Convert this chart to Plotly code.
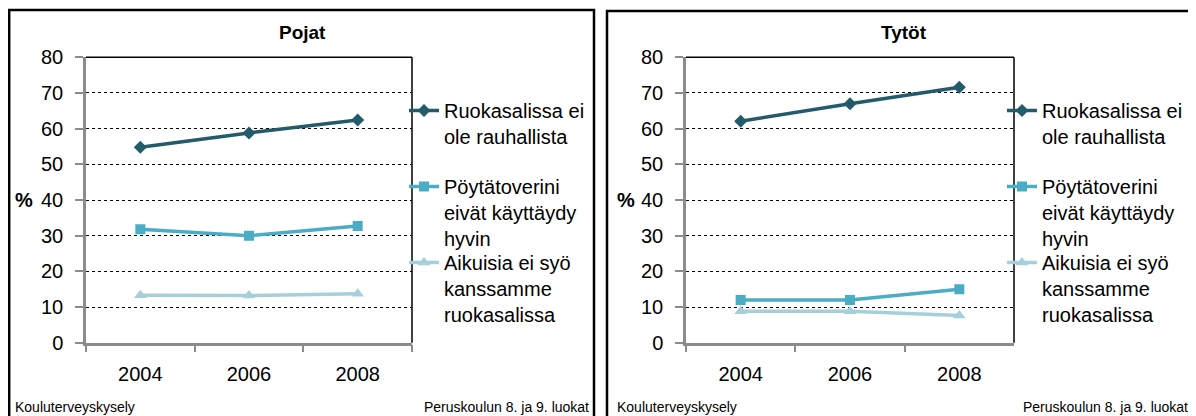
import plotly.graph_objs as go

# the page body keeps its default 8px margin, so the figure is drawn
# 8px in from the top-left corner of the 1196x416 window
OFF = 8
W, H = 1196 - OFF, 416 - OFF

years = ["2004", "2006", "2008"]
series_names = [
    "Ruokasalissa ei<br>ole rauhallista",
    "Pöytätoverini<br>eivät käyttäydy<br>hyvin",
    "Aikuisia ei syö<br>kanssamme<br>ruokasalissa",
]
pojat_rauhaton = [54.8, 58.8, 62.4]
pojat_poytatoverit = [31.8, 30.0, 32.7]
pojat_aikuiset = [13.3, 13.2, 13.7]
tytot_rauhaton = [62.1, 67.0, 71.6]
tytot_poytatoverit = [12.0, 12.0, 15.0]
tytot_aikuiset = [8.8, 8.8, 7.6]

colors = ["#235B6A", "#4BACC6", "#A5CFDB"]
symbols = ["diamond", "square", "triangle-up"]
msizes = [10, 10, 11]
FONT = "Arial, Liberation Sans, sans-serif"

# top of each legend entry (window px) and left edge of each panel's legend
legend_tops = [91, 167, 243]
legend_lefts = [404, 1002]


def px_x(p):
    # window pixel -> paper fraction
    return (p - OFF) / W


def px_y(p):
    return (H - (p - OFF)) / H


fig = go.Figure()

panels = [
    ("x", "y", [pojat_rauhaton, pojat_poytatoverit, pojat_aikuiset]),
    ("x2", "y2", [tytot_rauhaton, tytot_poytatoverit, tytot_aikuiset]),
]
legend_layout = {}
k = 0
for p, (xa, ya, data) in enumerate(panels):
    for i, vals in enumerate(data):
        lg = "legend" if k == 0 else "legend%d" % (k + 1)
        fig.add_trace(go.Scatter(
            x=years, y=vals, name=series_names[i], mode="lines+markers",
            xaxis=xa, yaxis=ya, legend=lg, showlegend=True,
            line=dict(color=colors[i], width=3.5),
            marker=dict(symbol=symbols[i], size=msizes[i], color=colors[i]),
        ))
        legend_layout[lg] = dict(
            x=px_x(legend_lefts[p]), y=px_y(legend_tops[i]),
            valign="top", itemwidth=30, bgcolor="rgba(0,0,0,0)",
            font=dict(size=20, color="black", family=FONT),
            xanchor="left", yanchor="top",
            itemclick=False, itemdoubleclick=False,
        )
        k += 1

axis_common_x = dict(
    type="category", range=[-0.5, 2.5], tickson="boundaries",
    ticks="outside", ticklen=7, tickcolor="#8c8c8c", tickwidth=2,
    showline=True, linecolor="#8c8c8c", linewidth=2.5, showgrid=False,
    automargin=False, ticklabelstandoff=12,
    tickfont=dict(size=20, color="black", family=FONT), fixedrange=True,
)
axis_common_y = dict(
    range=[0, 80], dtick=10, ticks="outside", ticklen=8,
    tickcolor="#8c8c8c", tickwidth=2, showline=True, linecolor="#8c8c8c",
    linewidth=2.5, showgrid=True, gridcolor="black", gridwidth=1,
    griddash="dot", zeroline=False, ticklabelstandoff=8, automargin=False,
    tickfont=dict(size=20, color="black", family=FONT), fixedrange=True,
)
ydom = [px_y(342.7), px_y(57.3)]

fig.update_layout(
    width=W, height=H, showlegend=True,
    margin=dict(l=0, r=0, t=0, b=0, pad=0, autoexpand=False),
    paper_bgcolor="white", plot_bgcolor="white",
    font=dict(family=FONT, color="black"),
    xaxis=dict(domain=[px_x(86), px_x(412)], anchor="y", **axis_common_x),
    yaxis=dict(domain=ydom, anchor="x", **axis_common_y),
    xaxis2=dict(domain=[px_x(686), px_x(1014)], anchor="y2", **axis_common_x),
    yaxis2=dict(domain=ydom, anchor="x2", **axis_common_y),
    **legend_layout,
)

shapes = []
for xr, yr in [("x domain", "y domain"), ("x2 domain", "y2 domain")]:
    shapes.append(dict(type="line", xref=xr, yref=yr, x0=0, x1=1, y0=1, y1=1,
                       line=dict(color="black", width=1.5)))
    shapes.append(dict(type="line", xref=xr, yref=yr, x0=1, x1=1, y0=0, y1=1,
                       line=dict(color="black", width=1.5)))
shapes.append(dict(type="rect", xref="paper", yref="paper",
                   x0=0.001, x1=px_x(594), y0=-0.1, y1=px_y(10),
                   line=dict(color="black", width=2.5)))
shapes.append(dict(type="rect", xref="paper", yref="paper",
                   x0=px_x(607), x1=1.1, y0=-0.1, y1=px_y(11),
                   line=dict(color="black", width=2.5)))
fig.update_layout(shapes=shapes)

ann = []
for cx, title in [(302, "Pojat"), (904, "Tytöt")]:
    ann.append(dict(text="<b>%s</b>" % title, x=px_x(cx), y=px_y(32),
                    xref="paper", yref="paper", showarrow=False,
                    font=dict(size=19), xanchor="center", yanchor="middle"))
for lx in [13, 615]:
    ann.append(dict(text="<b>%</b>", x=px_x(lx), y=px_y(200), xref="paper",
                    yref="paper", showarrow=False, font=dict(size=20),
                    xanchor="left", yanchor="middle"))
    ann.append(dict(text="Kouluterveyskysely", x=px_x(lx), y=px_y(407),
                    xref="paper", yref="paper", showarrow=False,
                    font=dict(size=14), xanchor="left", yanchor="middle"))
for rx in [591, 1190]:
    ann.append(dict(text="Peruskoulun 8. ja 9. luokat", x=px_x(rx),
                    y=px_y(407), xref="paper", yref="paper", showarrow=False,
                    font=dict(size=14), xanchor="right", yanchor="middle"))
fig.update_layout(annotations=ann)

fig.write_html("out.html")
